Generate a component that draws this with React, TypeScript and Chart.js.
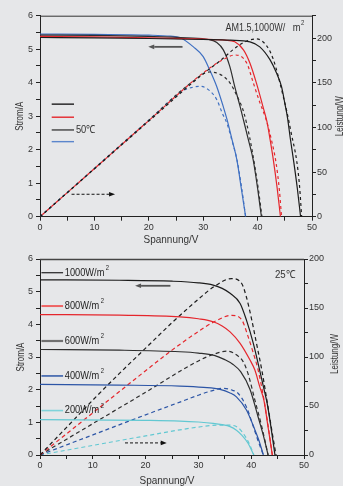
import React, { useEffect, useRef } from 'react';
import { Chart, registerables } from 'chart.js';
Chart.register(...registerables);

type Pt = [number, number];

const FONT = '"Liberation Sans", Arial, sans-serif';
const BG = '#e6e7e9';

// ---------- Top chart (temperature) ----------
const topIVBlack: Pt[] = [[0,5.35],[10,5.34],[20,5.32],[30,5.29],[35,5.27],[38.6,5.22],[40.4,5.07],[42.3,4.68],[43.5,4.28],[44.4,3.88],[45.0,3.39],[45.5,2.95],[46.0,2.35],[46.6,1.69],[47.3,0.85],[47.9,0]];
const topIVRed: Pt[] = [[0,5.38],[10,5.37],[20,5.34],[30,5.3],[34,5.27],[35.8,5.22],[37.4,4.98],[38.6,4.58],[39.8,3.98],[41.0,3.28],[41.7,2.85],[42.3,2.3],[42.9,1.69],[43.6,0.85],[44.2,0]];
const topIVDark: Pt[] = [[0,5.42],[10,5.41],[20,5.38],[27,5.34],[31,5.29],[32.5,5.2],[33.7,4.98],[34.9,4.48],[35.8,3.88],[36.8,3.28],[37.4,2.89],[38.3,2.3],[39.2,1.69],[40.0,0.85],[40.7,0]];
const topIVBlue: Pt[] = [[0,5.45],[10,5.44],[20,5.42],[24,5.39],[25.7,5.35],[28.2,5.07],[30.0,4.78],[31.2,4.38],[32.5,3.88],[33.7,3.28],[34.4,2.89],[35.3,2.3],[36.2,1.69],[37.0,0.85],[37.8,0]];

const topPBlack: Pt[] = [[0,0],[10,53.5],[20,107],[30,160],[33,174],[35.5,187],[37.4,195],[39.8,199],[41.7,191],[42.9,176],[43.8,157],[44.7,135],[45.4,117],[46.2,93],[47.2,62],[47.7,35],[48.1,0]];
const topPRed: Pt[] = [[0,0],[10,53.8],[20,107.6],[30,161],[33.7,176],[35.8,181],[38,172],[39.2,150],[40.4,128],[41.5,110],[42.5,87],[43.4,60],[44.0,30],[44.4,0]];
const topPDark: Pt[] = [[0,0],[10,54],[20,108],[28,151],[31.2,162],[33.5,158],[35,149],[36.3,134],[37.4,118],[38.5,90],[39.5,56],[40.2,28],[40.8,0]];
const topPBlue: Pt[] = [[0,0],[10,54],[20,108],[26,140],[27.8,144.5],[29.4,146],[31.2,141],[32.5,131],[33.5,116],[34.4,104],[35.3,85],[36.2,64],[37.0,35],[37.8,0]];

const topLegendLabels = ['', '', '50\u2103', ''];
const topLegendY = [3.36, 2.97, 2.59, 2.24];

// ---------- Bottom chart (irradiance) ----------
const botIV1000: Pt[] = [[0,5.36],[15,5.35],[25,5.32],[30,5.27],[32.8,5.2],[34.5,5.1],[36,4.95],[37.9,4.64],[39.1,4.13],[40.4,3.42],[41.6,2.6],[42.3,2.1],[43.0,1.6],[43.7,0.9],[44.5,0]];
const botIV800: Pt[] = [[0,4.3],[15,4.28],[26.5,4.23],[30,4.17],[32.8,4.08],[34.5,3.95],[36,3.77],[37.9,3.42],[39.8,2.9],[40.7,2.6],[41.6,2.1],[42.4,1.68],[43.2,0.85],[44.0,0]];
const botIV600: Pt[] = [[0,3.23],[15,3.21],[26.5,3.16],[30,3.12],[33,3.05],[35,2.92],[36.5,2.78],[38,2.55],[39.8,2.0],[41.3,1.17],[42.3,0.6],[43.2,0]];
const botIV400: Pt[] = [[0,2.16],[15,2.14],[26.5,2.11],[31,2.07],[34.1,2.01],[36,1.9],[37.2,1.78],[39.1,1.38],[40.7,0.77],[41.6,0.38],[42.3,0]];
const botIV200: Pt[] = [[0,1.08],[20,1.06],[26.5,1.04],[30,1.01],[32.8,0.97],[34.5,0.93],[36,0.87],[37.2,0.76],[38.2,0.61],[39.4,0.36],[40.5,0]];

const botP1000: Pt[] = [[0,0],[5,28],[10,56],[15,83],[20,109],[25,135],[30,159],[33,172],[36.3,180],[38.2,175],[39.1,161],[40.1,138],[41,114],[42,87],[43,55],[44,22],[44.7,0]];
const botP800: Pt[] = [[0,0],[10,43],[20,86],[25,107],[30,126],[33,136],[36.3,142.5],[38.2,138],[39.4,121],[40.4,104],[41.3,87],[42.3,60],[43.2,30],[44.0,0]];
const botP600: Pt[] = [[0,0],[10,32],[20,64],[27,87],[30,96],[33,103],[35.5,106],[37.5,101],[38.5,95],[39.4,83],[40.7,56],[42,29],[43.2,0]];
const botP400: Pt[] = [[0,0],[10,20.5],[20,41],[26.5,54],[30,61],[32.5,65.5],[34.6,68],[36.5,66],[37.5,63],[39.1,49],[40.4,29],[41.4,13],[42.3,0]];
const botP200: Pt[] = [[0,0],[10,9.8],[20,19.5],[30,28.5],[34,30.5],[36,30.5],[37.5,28],[38.5,22],[39.5,13],[40.5,0]];

const botLegendLabels = ['1000W/m', '800W/m', '600W/m', '400W/m', '200W/m'];
const botLegendY = [5.58, 4.56, 3.49, 2.42, 1.36];

const C_BLACK = '#1c1c1c';
const C_DARK = '#2e2e2e';
const C_RED = '#e5262c';
const C_BLUE_T = '#3f70c2';
const C_BLUE_B = '#2c55a6';
const C_CYAN = '#62c8d2';

function toXY(a: Pt[]) { return a.map(([x, y]) => ({ x, y })); }

function ds(data: Pt[], color: string, axis: string, dash: number[] = [], off = 0, width = 1.2) {
  return {
    data: toXY(data), borderColor: color, backgroundColor: color, borderWidth: width,
    borderDash: dash, borderDashOffset: off, yAxisID: axis, showLine: true,
    pointRadius: 0, pointHoverRadius: 0, fill: false, tension: 0.4, cubicInterpolationMode: 'monotone' as const,
  };
}

function txt(ctx: CanvasRenderingContext2D, s: string, x: number, y: number, size: number,
  o: { align?: CanvasTextAlign; baseline?: CanvasTextBaseline; rot?: number; sx?: number; color?: string } = {}) {
  ctx.save();
  ctx.translate(x, y);
  if (o.rot) ctx.rotate(o.rot);
  ctx.scale(o.sx ?? 1, 1);
  ctx.font = `${size}px ${FONT}`;
  ctx.fillStyle = o.color ?? '#333';
  ctx.textAlign = o.align ?? 'left';
  ctx.textBaseline = o.baseline ?? 'middle';
  ctx.fillText(s, 0, 0);
  const w = ctx.measureText(s).width * (o.sx ?? 1);
  ctx.restore();
  return w;
}

function arrow(ctx: CanvasRenderingContext2D, x1: number, x2: number, y: number, color: string, dashed: boolean, width: number) {
  ctx.save();
  ctx.strokeStyle = color; ctx.fillStyle = color; ctx.lineWidth = width;
  const dir = Math.sign(x2 - x1);
  const head = 6;
  if (dashed) ctx.setLineDash([3, 2]);
  ctx.beginPath(); ctx.moveTo(x1, y); ctx.lineTo(x2 - dir * head, y); ctx.stroke();
  ctx.setLineDash([]);
  ctx.beginPath(); ctx.moveTo(x2, y); ctx.lineTo(x2 - dir * head, y - 2.3); ctx.lineTo(x2 - dir * head, y + 2.3); ctx.closePath(); ctx.fill();
  ctx.restore();
}

function hline(ctx: CanvasRenderingContext2D, x1: number, x2: number, y: number, color: string, w: number) {
  ctx.save(); ctx.strokeStyle = color; ctx.lineWidth = w;
  ctx.beginPath(); ctx.moveTo(x1, y); ctx.lineTo(x2, y); ctx.stroke(); ctx.restore();
}

function baseOptions(rightMax: number, leftW: number, rightW: number, bottomH: number, topPad: number) {
  const grid = { drawOnChartArea: false, drawTicks: true, tickLength: 4, color: '#222', lineWidth: 1 };
  const border = { display: true, color: '#222', width: 1 };
  const tickFont = { size: 9, family: FONT };
  return {
    responsive: false,
    maintainAspectRatio: false,
    animation: false as const,
    layout: { padding: { top: topPad, left: 0, right: 0, bottom: 0 } },
    plugins: { legend: { display: false }, tooltip: { enabled: false } },
    events: [] as any[],
    scales: {
      x: {
        type: 'linear' as const, min: 0, max: 50,
        ticks: { stepSize: 5, autoSkip: false, maxRotation: 0, padding: 1, color: '#333', font: tickFont,
          callback: (v: any) => (v % 10 === 0 ? String(v) : '') },
        grid, border,
        afterFit: (s: any) => { s.height = bottomH; },
      },
      y: {
        type: 'linear' as const, position: 'left' as const, min: 0, max: 6,
        ticks: { stepSize: 0.5, autoSkip: false, padding: 3, color: '#333', font: tickFont,
          callback: (v: any) => (Number.isInteger(v) ? String(v) : '') },
        grid, border,
        afterFit: (s: any) => { s.width = leftW; },
      },
      y1: {
        type: 'linear' as const, position: 'right' as const, min: 0, max: rightMax,
        ticks: { stepSize: 25, autoSkip: false, padding: 1, color: '#333', font: tickFont,
          callback: (v: any) => (v % 50 === 0 && v <= 200 ? String(v) : '') },
        grid, border,
        afterFit: (s: any) => { s.width = rightW; },
      },
    },
  };
}

const topDecor = {
  id: 'topDecor',
  afterDraw(chart: any) {
    const { ctx, chartArea: a, scales } = chart;
    const X = (v: number) => scales.x.getPixelForValue(v);
    const Y = (v: number) => scales.y.getPixelForValue(v);
    hline(ctx, a.left, a.right, a.top + 0.5, '#333', 1);
    // axis titles
    const cy = (a.top + a.bottom) / 2;
    txt(ctx, 'Strom/A', 20, cy, 10, { align: 'center', rot: -Math.PI / 2, sx: 0.8 });
    txt(ctx, 'Leistung/W', 340, cy, 10, { align: 'center', rot: -Math.PI / 2, sx: 0.8 });
    txt(ctx, 'Spannung/V', (a.left + a.right) / 2 - 5, 240, 10.5, { align: 'center', sx: 0.95 });
    // legend
    const lc = [C_BLACK, C_RED, '#666', '#5b86cc'];
    topLegendY.forEach((iv, k) => {
      hline(ctx, X(2.15), X(6.25), Y(iv), lc[k], k === 2 ? 1.8 : 1.4);
      if (topLegendLabels[k]) txt(ctx, topLegendLabels[k], X(6.6), Y(iv), 11, { sx: 0.85, color: '#333' });
    });
    // arrows
    arrow(ctx, X(26.2), X(19.9), Y(5.07), '#555', false, 1.8);
    arrow(ctx, X(5.8), X(13.8), Y(0.67), '#111', true, 1);
    // condition text
    const ty = Y(5.62);
    txt(ctx, 'AM1.5,1000W/', X(34.1), ty, 11, { sx: 0.82 });
    const mw = txt(ctx, 'm', X(46.45), ty, 11, { sx: 0.85 });
    txt(ctx, '2', X(46.45) + mw + 0.5, ty - 5, 7, { sx: 0.85 });
  },
};

const botDecor = {
  id: 'botDecor',
  afterDraw(chart: any) {
    const { ctx, chartArea: a, scales } = chart;
    const X = (v: number) => scales.x.getPixelForValue(v);
    const Y = (v: number) => scales.y.getPixelForValue(v);
    hline(ctx, a.left, a.right, a.top + 0.5, '#444', 1.5);
    const cy = (a.top + a.bottom) / 2;
    txt(ctx, 'Strom/A', 21.5, cy, 10, { align: 'center', rot: -Math.PI / 2, sx: 0.8 });
    txt(ctx, 'Leistung/W', 335, cy - 3, 10, { align: 'center', rot: -Math.PI / 2, sx: 0.8 });
    txt(ctx, 'Spannung/V', (a.left + a.right) / 2 - 5, 238, 10.5, { align: 'center', sx: 0.95 });
    const lc = ['#222', '#ee6464', '#707070', C_BLUE_B, '#7fd3da'];
    const lw = [1.2, 2, 2.2, 1.5, 1.6];
    botLegendY.forEach((iv, k) => {
      const y = Y(iv);
      hline(ctx, X(0.27), X(4.37), y, lc[k], lw[k]);
      const w = txt(ctx, botLegendLabels[k], X(4.7), y, 10.5, { sx: 0.88, color: '#222' });
      txt(ctx, '2', X(4.7) + w + 1.5, y - 4.5, 6.5, { sx: 0.9, color: '#222' });
    });
    arrow(ctx, X(24.7), X(18), Y(5.18), '#555', false, 1.8);
    arrow(ctx, X(16.1), X(24), Y(0.37), '#111', true, 1);
    txt(ctx, '25\u2103', X(44.5), Y(5.51), 11, { sx: 0.88 });
  },
};

function makeTop(canvas: HTMLCanvasElement) {
  return new Chart(canvas, {
    type: 'scatter',
    data: {
      datasets: [
        ds(topPRed, C_RED, 'y1', [3, 3], 3),
        ds(topPBlack, C_BLACK, 'y1', [3, 3], 0),
        ds(topPDark, C_DARK, 'y1', [3, 3], 0),
        ds(topPBlue, C_BLUE_T, 'y1', [3, 3], 0),
        ds(topIVBlack, C_BLACK, 'y'),
        ds(topIVRed, C_RED, 'y'),
        ds(topIVDark, C_DARK, 'y'),
        ds(topIVBlue, C_BLUE_T, 'y'),
      ] as any,
    },
    options: baseOptions(225, 40, 31, 33.3, 15.7) as any,
    plugins: [topDecor],
  });
}

function makeBottom(canvas: HTMLCanvasElement) {
  return new Chart(canvas, {
    type: 'scatter',
    data: {
      datasets: [
        ds(botIV1000, C_BLACK, 'y'),
        ds(botIV800, C_RED, 'y'),
        ds(botIV600, C_DARK, 'y'),
        ds(botIV400, C_BLUE_B, 'y'),
        ds(botIV200, C_CYAN, 'y'),
        ds(botP1000, C_BLACK, 'y1', [4, 3]),
        ds(botP800, C_RED, 'y1', [4, 3]),
        ds(botP600, C_DARK, 'y1', [4, 3]),
        ds(botP400, C_BLUE_B, 'y1', [4, 3]),
        ds(botP200, C_CYAN, 'y1', [4, 3]),
      ] as any,
    },
    options: baseOptions(200, 40, 39, 31, 16) as any,
    plugins: [botDecor],
  });
}

export default function App() {
  const topRef = useRef<HTMLCanvasElement>(null);
  const botRef = useRef<HTMLCanvasElement>(null);
  useEffect(() => {
    const c1 = makeTop(topRef.current!);
    const c2 = makeBottom(botRef.current!);
    return () => { c1.destroy(); c2.destroy(); };
  }, []);
  return (
    <div style={{ position: 'fixed', left: 0, top: 0, width: 343, height: 486, background: BG, overflow: 'hidden' }}>
      <canvas ref={topRef} width={343} height={250} style={{ position: 'absolute', left: 0, top: 0, width: 343, height: 250 }} />
      <canvas ref={botRef} width={343} height={243} style={{ position: 'absolute', left: 0, top: 243, width: 343, height: 243 }} />
    </div>
  );
}
